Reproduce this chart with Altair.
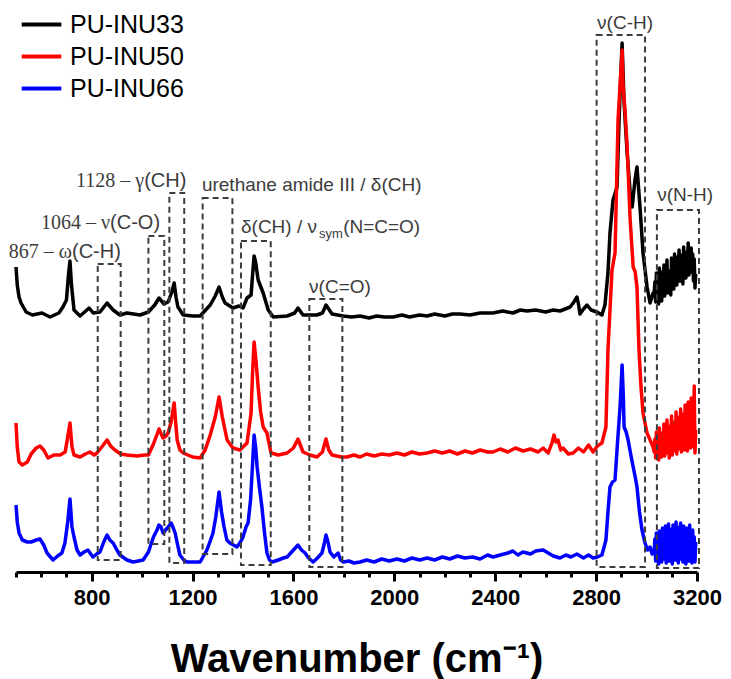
import altair as alt
import pandas as pd

series_names = ["PU-INU33", "PU-INU50", "PU-INU66"]
series_colors = ["#000000", "#ff0000", "#0000ff"]

# (wavenumber, intensity a.u. incl. vertical offset)
black_points = [
    (500, 305), (505, 287), (512, 275), (520, 269), (540, 260), (565, 257), (603, 259), (635, 255),
    (670, 259), (686, 265), (700, 272), (708, 297), (714, 311), (720, 287), (730, 262), (754, 256),
    (790, 264), (806, 259), (833, 260), (861, 269), (885, 262), (912, 257), (940, 259), (992, 257),
    (1025, 260), (1050, 267), (1067, 274), (1087, 268), (1103, 270), (1118, 280), (1127, 289),
    (1135, 274), (1142, 265), (1163, 257), (1200, 256), (1230, 256), (1270, 267), (1290, 276),
    (1305, 285), (1318, 275), (1329, 269), (1360, 264), (1384, 266), (1400, 264), (1416, 274),
    (1432, 277), (1438, 297), (1444, 316), (1450, 310), (1460, 292), (1480, 279), (1500, 262),
    (1520, 255), (1575, 256), (1605, 259), (1618, 264), (1638, 257), (1693, 257), (1715, 259),
    (1729, 267), (1753, 258), (1797, 256), (1830, 255), (1864, 256), (1900, 254), (1930, 256),
    (1960, 255), (1995, 255), (2030, 257), (2060, 255), (2100, 257), (2130, 256), (2160, 258),
    (2200, 256), (2230, 258), (2260, 258), (2300, 257), (2340, 259), (2391, 259), (2430, 261),
    (2470, 259), (2500, 262), (2526, 261), (2560, 262), (2600, 260), (2630, 262), (2657, 261),
    (2697, 265), (2712, 270), (2724, 275), (2730, 268), (2736, 258), (2750, 263), (2764, 267),
    (2780, 262), (2803, 260), (2823, 257), (2835, 267), (2847, 299), (2855, 339), (2867, 372),
    (2883, 385), (2891, 452), (2903, 529), (2911, 469), (2923, 419), (2935, 380), (2943, 365),
    (2954, 392), (2962, 405), (2974, 365), (2986, 319), (3002, 285), (3014, 269), (3026, 279),
]
red_points = [
    (500, 149), (505, 125), (512, 110), (525, 107), (545, 110), (560, 118), (580, 124), (595, 126),
    (610, 122), (627, 114), (650, 117), (675, 117), (695, 120), (705, 135), (714, 149), (722, 125),
    (730, 117), (754, 115), (775, 118), (793, 120), (810, 117), (821, 119), (840, 125), (861, 132),
    (875, 126), (892, 122), (915, 118), (940, 117), (980, 116), (1010, 117), (1025, 117),
    (1045, 128), (1067, 143), (1083, 134), (1095, 136), (1103, 139), (1115, 150), (1127, 169),
    (1133, 150), (1139, 132), (1150, 122), (1163, 119), (1200, 115), (1230, 114), (1250, 122),
    (1270, 137), (1290, 155), (1305, 175), (1318, 155), (1337, 132), (1360, 124), (1388, 122),
    (1416, 129), (1432, 159), (1438, 200), (1444, 230), (1452, 210), (1460, 185), (1470, 160),
    (1480, 145), (1495, 139), (1511, 119), (1540, 117), (1575, 119), (1600, 124), (1618, 133),
    (1638, 120), (1665, 117), (1693, 115), (1715, 120), (1729, 133), (1740, 122), (1753, 117),
    (1790, 115), (1812, 115), (1840, 117), (1864, 115), (1890, 118), (1920, 116), (1950, 118),
    (1980, 117), (2010, 119), (2040, 117), (2070, 120), (2100, 118), (2130, 119), (2160, 121),
    (2190, 119), (2220, 121), (2250, 118), (2280, 121), (2310, 119), (2340, 122), (2370, 120),
    (2391, 120), (2420, 123), (2450, 120), (2480, 124), (2510, 121), (2540, 123), (2570, 120),
    (2590, 124), (2610, 119), (2625, 129), (2633, 137), (2641, 130), (2649, 132), (2660, 122),
    (2669, 124), (2690, 118), (2709, 119), (2730, 124), (2750, 120), (2770, 127), (2788, 120),
    (2805, 126), (2823, 129), (2839, 145), (2847, 222), (2855, 262), (2863, 302), (2875, 319),
    (2887, 452), (2903, 522), (2907, 485), (2915, 460), (2923, 425), (2935, 352), (2947, 305),
    (2955, 300), (2962, 285), (2970, 222), (2978, 185), (2986, 159), (3002, 139), (3014, 132),
    (3026, 125),
]
blue_points = [
    (500, 67), (505, 50), (512, 39), (525, 32), (545, 30), (560, 30), (580, 32), (595, 33),
    (610, 27), (623, 19), (647, 12), (665, 16), (682, 19), (694, 29), (705, 50), (714, 73),
    (722, 45), (730, 35), (742, 22), (754, 17), (770, 20), (785, 22), (805, 15), (820, 18),
    (833, 20), (848, 30), (861, 37), (872, 32), (885, 29), (900, 22), (912, 17), (940, 12),
    (964, 10), (985, 11), (1004, 12), (1025, 20), (1045, 35), (1059, 42), (1067, 47), (1075, 45),
    (1083, 39), (1100, 44), (1115, 49), (1122, 45), (1131, 39), (1140, 28), (1150, 17), (1165, 12),
    (1178, 10), (1200, 10), (1230, 10), (1257, 22), (1270, 31), (1281, 39), (1292, 55), (1305, 80),
    (1315, 60), (1325, 45), (1336, 32), (1348, 29), (1362, 27), (1376, 25), (1390, 30), (1400, 35),
    (1412, 45), (1420, 49), (1430, 72), (1436, 99), (1444, 137), (1450, 125), (1456, 105),
    (1465, 85), (1475, 65), (1485, 40), (1495, 19), (1505, 12), (1515, 10), (1540, 12), (1560, 14),
    (1575, 15), (1600, 22), (1618, 27), (1632, 22), (1646, 19), (1660, 14), (1678, 10), (1695, 14),
    (1713, 19), (1722, 28), (1729, 37), (1737, 30), (1745, 20), (1760, 15), (1777, 19), (1787, 12),
    (1797, 10), (1820, 11), (1840, 9), (1864, 10), (1890, 12), (1920, 10), (1950, 13), (1980, 11),
    (2010, 13), (2040, 11), (2070, 14), (2100, 12), (2130, 14), (2160, 12), (2190, 15), (2220, 13),
    (2250, 16), (2280, 14), (2310, 15), (2340, 13), (2370, 17), (2391, 15), (2420, 17), (2450, 19),
    (2470, 21), (2490, 17), (2510, 20), (2540, 18), (2560, 21), (2590, 22), (2610, 19), (2630, 16),
    (2657, 14), (2680, 17), (2700, 15), (2724, 18), (2750, 14), (2770, 17), (2788, 14), (2805, 15),
    (2823, 17), (2839, 32), (2847, 60), (2855, 85), (2865, 90), (2875, 92), (2885, 130),
    (2895, 165), (2903, 207), (2908, 175), (2911, 145), (2919, 140), (2927, 132), (2937, 118),
    (2947, 105), (2955, 95), (2962, 85), (2972, 60), (2982, 42), (2994, 29), (3004, 22), (3014, 25),
    (3022, 18),
]

# noisy N-H region, sampled wavenumbers and read intensities
nh_wn = [3030, 3033, 3036, 3039, 3042, 3045, 3048, 3051, 3054, 3057, 3060, 3063, 3066, 3069,
         3072, 3075, 3078, 3081, 3084, 3087, 3090, 3093, 3096, 3099, 3102, 3105, 3108, 3111,
         3114, 3117, 3120, 3123, 3126, 3129, 3132, 3135, 3138, 3141, 3144, 3147, 3150, 3153,
         3156, 3159, 3162, 3165, 3168, 3171, 3174, 3177, 3180, 3183, 3186, 3189, 3192, 3195]
black_nh = [278, 290, 270, 299, 275, 286, 268, 304, 280, 292, 271, 300, 283, 307,
            276, 296, 289, 312, 279, 301, 286, 296, 277, 314, 292, 303, 283, 318,
            295, 306, 287, 315, 300, 322, 291, 309, 298, 317, 288, 325, 302, 312,
            294, 320, 306, 329, 297, 314, 308, 324, 300, 318, 291, 313, 284, 298]
red_nh = [120, 133, 114, 140, 118, 129, 112, 144, 121, 134, 115, 139, 123, 148,
          116, 135, 119, 152, 122, 141, 114, 146, 125, 156, 117, 139, 121, 150,
          126, 160, 118, 145, 123, 155, 128, 163, 120, 149, 126, 158, 122, 167,
          129, 152, 121, 170, 127, 159, 124, 174, 131, 163, 125, 186, 119, 142]
blue_nh = [20, 33, 11, 39, 15, 29, 8, 41, 17, 30, 10, 44, 13, 37,
           19, 46, 9, 35, 14, 48, 11, 39, 18, 43, 8, 47, 15, 36,
           12, 50, 17, 40, 9, 45, 13, 49, 16, 38, 10, 46, 14, 41,
           8, 44, 15, 37, 11, 47, 13, 39, 9, 42, 14, 35, 10, 30]

# annotation boxes
box_x1 = [824, 1025, 1108, 1240, 1392, 1663, 2802, 3041]
box_x2 = [915, 1088, 1167, 1358, 1510, 1794, 2994, 3208]
box_top = [308, 336, 379, 374, 331, 273, 537, 362]
box_bottom = [12, 28, 9, 18, 7, 5, 5, 4]

# serif parts of labels (right aligned)
serif_text = ["867 – ω", "1064 – ν", "1128 – γ"]
serif_x = [722, 873, 1008]
serif_y = [320, 349, 391]

# sans parts of labels (left aligned)
sans_text = ["(C-H)", "(C-O)", "(CH)", "urethane amide III / δ(CH)", "δ(CH) / ν", "sym",
             "(N=C=O)", "ν(C=O)", "ν(C-H)", "ν(N-H)"]
sans_x = [722, 873, 1008, 1237, 1392, 1701, 1797, 1662, 2804, 3042]
sans_y = [320, 349, 391, 387, 345, 338, 345, 285, 549, 377]
sans_size = [20, 20, 20, 19, 19, 13, 19, 19, 19, 19]

major_ticks = [800, 1200, 1600, 2000, 2400, 2800, 3200]
minor_ticks = [500, 600, 700, 900, 1000, 1100, 1300, 1400, 1500, 1700, 1800, 1900, 2100,
               2200, 2300, 2500, 2600, 2700, 2900, 3000, 3100]

rows = []
for name, pts, nh in zip(series_names, [black_points, red_points, blue_points],
                         [black_nh, red_nh, blue_nh]):
    for w, v in pts:
        rows.append({"series": name, "wn": w, "val": v})
    for w, v in zip(nh_wn, nh):
        rows.append({"series": name, "wn": w, "val": v})
spec = pd.DataFrame(rows)

boxes = pd.DataFrame({"x1": box_x1, "x2": box_x2, "y1": box_bottom, "y2": box_top})
serif_df = pd.DataFrame({"x": serif_x, "y": serif_y, "t": serif_text})
sans_df = pd.DataFrame({"x": sans_x, "y": sans_y, "t": sans_text, "s": sans_size})

xscale = alt.Scale(domain=[500, 3200], nice=False, zero=False)
yscale = alt.Scale(domain=[0, 572], nice=False, zero=False)
GRAY = "#3c3c3c"

lines = alt.Chart(spec).mark_line(strokeWidth=3.5, strokeJoin="round").encode(
    x=alt.X("wn:Q", scale=xscale,
            axis=alt.Axis(values=major_ticks, tickSize=9, tickWidth=3, tickColor="black",
                          domainColor="black", domainWidth=3, labelFontSize=22,
                          labelFontWeight="bold", labelFont="Liberation Sans", labelColor="black",
                          labelPadding=6, labelFlush=False, title="Wavenumber (cm⁻¹)",
                          titleFontSize=40, titleFontWeight="bold", titleFont="Liberation Sans",
                          titleColor="black", titlePadding=31, grid=False, orient="bottom",
                          format="d")),
    y=alt.Y("val:Q", scale=yscale, axis=None),
    color=alt.Color("series:N",
                    scale=alt.Scale(domain=series_names, range=series_colors),
                    legend=alt.Legend(orient="none", legendX=7, legendY=6, title=None,
                                      symbolType="M-1.2,0H1.2", symbolSize=1089,
                                      symbolStrokeWidth=4, symbolFillColor="transparent",
                                      labelFontSize=25, labelFont="Liberation Sans",
                                      labelColor="black", labelOffset=10, rowPadding=0)),
    detail="series:N",
)

rects = alt.Chart(boxes).mark_rect(filled=False, stroke=GRAY, strokeWidth=2,
                                   strokeDash=[6, 4]).encode(
    x=alt.X("x1:Q", scale=xscale,
            axis=alt.Axis(values=minor_ticks, tickSize=5, tickWidth=3, tickColor="black",
                          labels=False, domain=False, title=None, grid=False, orient="bottom")),
    x2="x2:Q",
    y=alt.Y("y1:Q", scale=yscale, axis=None),
    y2="y2:Q",
)

serif_txt = alt.Chart(serif_df).mark_text(align="right", baseline="middle",
                                          font="Liberation Serif", fontSize=20, color=GRAY).encode(
    x=alt.X("x:Q", scale=xscale, axis=None),
    y=alt.Y("y:Q", scale=yscale, axis=None),
    text="t:N",
)

sans_txt = alt.Chart(sans_df).mark_text(align="left", baseline="middle",
                                        font="Liberation Sans", color=GRAY).encode(
    x=alt.X("x:Q", scale=xscale, axis=None),
    y=alt.Y("y:Q", scale=yscale, axis=None),
    text="t:N",
    size=alt.Size("s:Q", scale=None, legend=None),
)

chart = alt.layer(lines, rects, serif_txt, sans_txt).resolve_axis(x="independent").properties(
    width=681, height=572,
    padding={"left": 16, "top": 0, "right": 34, "bottom": 107},
    autosize=alt.AutoSizeParams(type="none"),
).configure_view(stroke=None)

chart.save("out.html", embed_options={"renderer": "svg", "actions": False})
